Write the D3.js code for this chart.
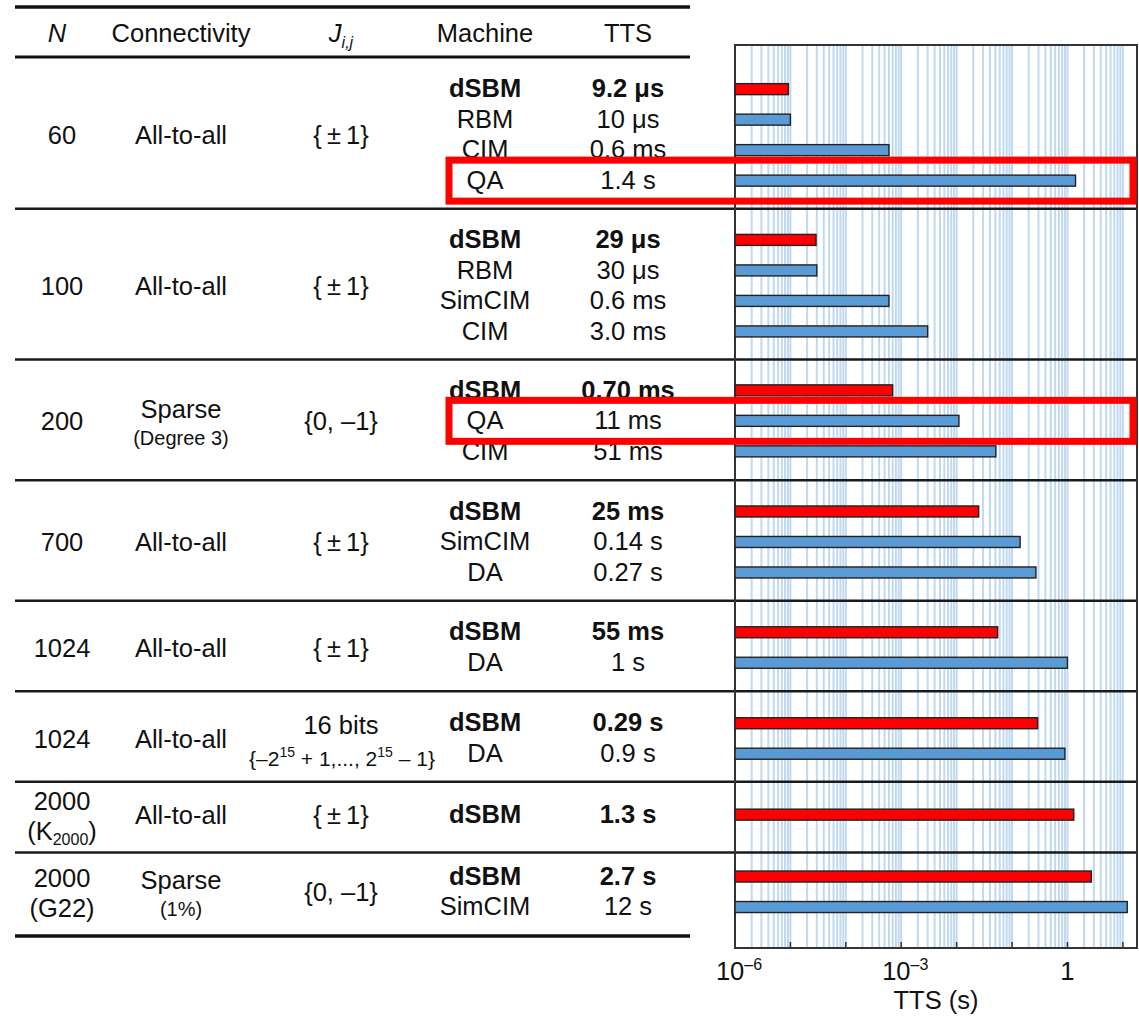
<!DOCTYPE html>
<html>
<head>
<meta charset="utf-8">
<script src="https://cdn.jsdelivr.net/npm/d3@7"></script>
<style>
  html, body { margin: 0; padding: 0; background: #fff; }
  svg text { font-family: "Liberation Sans", Arial, Helvetica, sans-serif; fill: #111; }
</style>
</head>
<body>
<svg id="chart" width="1139" height="1019"></svg>
<script>
// ---- Benchmark table: problem size, connectivity, coupling set, machines and time-to-solution ----
// Rich text: "_{...}" is a subscript, "^{...}" a superscript.
const sizeLabels        = ["60", "100", "200", "700", "1024", "1024", "2000", "2000"];
const sizeNotes         = ["", "", "", "", "", "", "(K_{2000})", "(G22)"];
const connectivity      = ["All-to-all", "All-to-all", "Sparse", "All-to-all", "All-to-all", "All-to-all", "All-to-all", "Sparse"];
const connectivityNotes = ["", "", "(Degree 3)", "", "", "", "", "(1%)"];
const couplings         = ["{\u2009\u00B1\u20091}", "{\u2009\u00B1\u20091}", "{0, \u20131}", "{\u2009\u00B1\u20091}", "{\u2009\u00B1\u20091}", "16 bits", "{\u2009\u00B1\u20091}", "{0, \u20131}"];
const couplingNotes     = ["", "", "", "", "", "{\u20132^{15} + 1,..., 2^{15} \u2013 1}", "", ""];
const machines = [
  ["dSBM", "RBM", "CIM", "QA"],
  ["dSBM", "RBM", "SimCIM", "CIM"],
  ["dSBM", "QA", "CIM"],
  ["dSBM", "SimCIM", "DA"],
  ["dSBM", "DA"],
  ["dSBM", "DA"],
  ["dSBM"],
  ["dSBM", "SimCIM"]
];
const ttsLabels = [
  ["9.2 \u03BCs", "10 \u03BCs", "0.6 ms", "1.4 s"],
  ["29 \u03BCs", "30 \u03BCs", "0.6 ms", "3.0 ms"],
  ["0.70 ms", "11 ms", "51 ms"],
  ["25 ms", "0.14 s", "0.27 s"],
  ["55 ms", "1 s"],
  ["0.29 s", "0.9 s"],
  ["1.3 s"],
  ["2.7 s", "12 s"]
];
const ttsSeconds = [
  [9.2e-6, 10e-6, 0.6e-3, 1.4],
  [29e-6, 30e-6, 0.6e-3, 3.0e-3],
  [0.70e-3, 11e-3, 51e-3],
  [25e-3, 0.14, 0.27],
  [55e-3, 1],
  [0.29, 0.9],
  [1.3],
  [2.7, 12]
];
// [group, row] pairs outlined in red
const highlightedRows = [[0, 3], [2, 1]];
const axisTickValues = [1e-6, 1e-3, 1];
const axisTickLabels = ["10^{\u20136}", "10^{\u20133}", "1"];
const axisTitle = "TTS (s)";

// ---- Layout ----
const svg = d3.select("#chart");
const FS = 25.5;
const tableLeft = 15, tableRight = 690;
const plot = { left: 735, right: 1137, top: 45, bottom: 948 };
const col = { n: 62, conn: 181, j: 341, machine: 485, tts: 628 };
const groupSpan  = [5, 5, 4, 4, 3, 3, 2.35, 2.8];   // group heights in row units
const groupShift = [2.5, 2.5, 2, 2.5, 2.5, 3, -1.5, -2];
const rowPitch = 30.5;
const barHeight = 11;

const cum = [0];
groupSpan.forEach(s => cum.push(cum[cum.length - 1] + s));
const y = d3.scaleLinear().domain([0, cum[cum.length - 1]]).range([57, 936]);
const x = d3.scaleLog().domain([1e-6, 18]).range([plot.left, plot.right]);

const groupMid = g => (y(cum[g]) + y(cum[g + 1])) / 2 + groupShift[g];
const rowY = (g, i) => groupMid(g) + (i - (machines[g].length - 1) / 2) * rowPitch;

// writes a string with _{..} / ^{..} markup into a text element
function rich(t, s, small) {
  const re = /([_^])\{([^}]*)\}/g;
  let last = 0, m, shift = 0;
  const add = (str, dy, size) => {
    const ts = t.append("tspan").text(str);
    if (dy) ts.attr("dy", dy);
    if (size) ts.attr("font-size", size);
  };
  while ((m = re.exec(s)) !== null) {
    if (m.index > last) { add(s.slice(last, m.index), -shift || null); shift = 0; }
    const d = m[1] === "^" ? -small * 0.6 : small * 0.35;
    add(m[2], d - shift || null, small);
    shift = d;
    last = re.lastIndex;
  }
  if (last < s.length) add(s.slice(last), -shift || null);
  return t;
}

// flattened rows
const rows = [];
machines.forEach((ms, g) => ms.forEach((m, i) => rows.push({
  g, i, machine: m, label: ttsLabels[g][i], value: ttsSeconds[g][i], best: m === "dSBM"
})));

// ---- Grid (log minor grid) ----
const gridTicks = x.ticks().filter(t => t >= 1e-6 && t <= 18);
svg.append("g").selectAll("line").data(gridTicks).join("line")
  .attr("x1", d => x(d)).attr("x2", d => x(d))
  .attr("y1", plot.top).attr("y2", plot.bottom)
  .attr("stroke", "#c0d9f0").attr("stroke-width", 2);

// bottom axis ticks (inside, one per decade)
const decades = d3.range(-6, 2).map(k => Math.pow(10, k));
svg.append("g").selectAll("line").data(decades).join("line")
  .attr("x1", d => x(d)).attr("x2", d => x(d))
  .attr("y1", plot.bottom).attr("y2", plot.bottom - 6)
  .attr("stroke", "#333").attr("stroke-width", 1.5);

// ---- Table rules ----
const rules = svg.append("g");
rules.append("line").attr("x1", tableLeft).attr("x2", tableRight).attr("y1", 7).attr("y2", 7)
  .attr("stroke", "#111").attr("stroke-width", 3.5);
rules.append("line").attr("x1", tableLeft).attr("x2", tableRight).attr("y1", y(0)).attr("y2", y(0))
  .attr("stroke", "#111").attr("stroke-width", 3);
rules.append("line").attr("x1", tableLeft).attr("x2", tableRight)
  .attr("y1", y(cum[cum.length - 1])).attr("y2", y(cum[cum.length - 1]))
  .attr("stroke", "#111").attr("stroke-width", 3.5);
rules.selectAll("line.sep").data(cum.slice(1, -1)).join("line").attr("class", "sep")
  .attr("x1", tableLeft).attr("x2", plot.right)
  .attr("y1", d => y(d) + 1).attr("y2", d => y(d) + 1)
  .attr("stroke", "#1a1a1a").attr("stroke-width", 2.5);

// plot frame
svg.append("rect")
  .attr("x", plot.left).attr("y", plot.top)
  .attr("width", plot.right - plot.left).attr("height", plot.bottom - plot.top)
  .attr("fill", "none").attr("stroke", "#333").attr("stroke-width", 2);

// ---- Bars ----
svg.append("g").selectAll("rect").data(rows).join("rect")
  .attr("x", x(1e-6))
  .attr("y", d => rowY(d.g, d.i) - barHeight / 2)
  .attr("width", d => x(d.value) - x(1e-6))
  .attr("height", barHeight)
  .attr("fill", d => d.best ? "#ff0000" : "#5b9bd5")
  .attr("stroke", "#222").attr("stroke-width", 1.4);

// ---- Text ----
const txt = svg.append("g").attr("font-size", FS).attr("text-anchor", "middle");
const base = FS * 0.36;

// header
const hy = 33 + base;
txt.append("text").attr("x", 57).attr("y", hy).attr("font-style", "italic").text("N");
txt.append("text").attr("x", col.conn).attr("y", hy).text("Connectivity");
rich(txt.append("text").attr("x", col.j).attr("y", hy).attr("font-style", "italic"), "J_{i,j}", 16);
txt.append("text").attr("x", col.machine).attr("y", hy).text("Machine");
txt.append("text").attr("x", col.tts).attr("y", hy).text("TTS");

// per-group columns
sizeLabels.forEach((s, g) => {
  const m = groupMid(g);
  if (sizeNotes[g]) {
    txt.append("text").attr("x", col.n).attr("y", m - 14 + base).text(s);
    rich(txt.append("text").attr("x", col.n).attr("y", m + 16 + base), sizeNotes[g], 16);
  } else {
    txt.append("text").attr("x", col.n).attr("y", m + base).text(s);
  }

  if (connectivityNotes[g]) {
    txt.append("text").attr("x", col.conn).attr("y", m - 12 + base).text(connectivity[g]);
    txt.append("text").attr("x", col.conn).attr("y", m + 15 + base).attr("font-size", 20).text(connectivityNotes[g]);
  } else {
    txt.append("text").attr("x", col.conn).attr("y", m + base).text(connectivity[g]);
  }

  if (couplingNotes[g]) {
    txt.append("text").attr("x", col.j).attr("y", m - 14 + base).text(couplings[g]);
    rich(txt.append("text").attr("x", 342).attr("y", m + 18 + base).attr("font-size", 21), couplingNotes[g], 14);
  } else {
    txt.append("text").attr("x", col.j).attr("y", m + base).text(couplings[g]);
  }
});

// machine and TTS columns
txt.append("g").selectAll("text").data(rows).join("text")
  .attr("x", col.machine).attr("y", d => rowY(d.g, d.i) - 1 + base)
  .attr("font-weight", d => d.best ? "bold" : null)
  .text(d => d.machine);
txt.append("g").selectAll("text").data(rows).join("text")
  .attr("x", col.tts).attr("y", d => rowY(d.g, d.i) - 1 + base)
  .attr("font-weight", d => d.best ? "bold" : null)
  .text(d => d.label);

// ---- Axis labels ----
axisTickValues.forEach((v, k) => {
  const hasExp = axisTickLabels[k].includes("^");
  rich(txt.append("text").attr("x", x(v) + (hasExp ? 4 : 0)).attr("y", 980), axisTickLabels[k], 16);
});
txt.append("text").attr("x", (plot.left + plot.right) / 2).attr("y", 1009).text(axisTitle);

// ---- Highlight outlines ----
svg.append("g").selectAll("rect").data(highlightedRows).join("rect")
  .attr("x", 449).attr("width", plot.right - 4 - 449)
  .attr("y", d => rowY(d[0], d[1]) - 20.5).attr("height", 41)
  .attr("fill", "none").attr("stroke", "#ff0000").attr("stroke-width", 7);
</script>
</body>
</html>
